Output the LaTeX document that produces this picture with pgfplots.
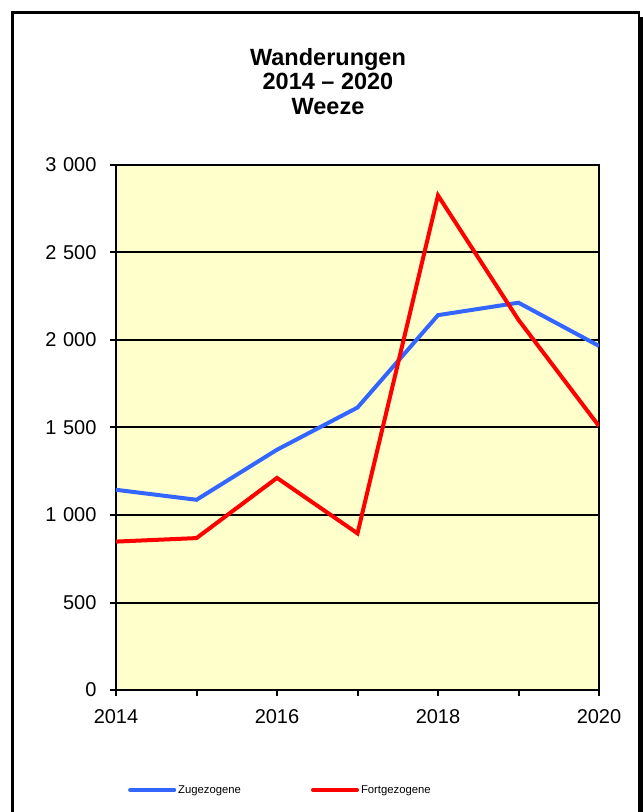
\documentclass[border=0pt]{standalone}
\usepackage{fontspec}
\setmainfont{Liberation Sans}
\usepackage{pgfplots}
\pgfplotsset{compat=1.18}
\definecolor{zuBlue}{RGB}{51,102,255}
\definecolor{fortRed}{RGB}{255,0,0}
\definecolor{plotBg}{RGB}{255,255,204}
\begin{document}
\begin{tikzpicture}[x=1pt,y=1pt]
\useasboundingbox (0,0) rectangle (643,812);
% outer frame
\fill[black] (639,0) rectangle (643,795);
\draw[line width=2.5pt] (12.5,0) -- (12.5,799.5) -- (639,799.5) -- (639,0);
% title
\node[anchor=base,font=\fontsize{23.5}{27}\selectfont\bfseries] at (328,746) {Wanderungen};
\node[anchor=base,font=\fontsize{23.5}{27}\selectfont\bfseries] at (328,722) {2014 -- 2020};
\node[anchor=base,font=\fontsize{23.5}{27}\selectfont\bfseries] at (328,697) {Weeze};
\begin{axis}[
  at={(116pt,122pt)}, anchor=south west,
  scale only axis, width=483pt, height=525pt,
  xmin=2014, xmax=2020, ymin=0, ymax=3000,
  axis background/.style={fill=plotBg},
  axis line style={line width=2.2pt},
  xtick={2014,2015,2016,2017,2018,2019,2020},
  xticklabels={2014,,2016,,2018,,2020},
  ytick={0,500,1000,1500,2000,2500,3000},
  tick align=outside, tick pos=left,
  major tick length=6pt,
  major tick style={black,line width=2pt},
  ymajorgrids,
  major grid style={black,line width=2pt},
  /pgf/number format/assume math mode=true,
  yticklabel style={/pgf/number format/1000 sep={\,\,}, xshift=-10pt},
  xticklabel style={yshift=-10pt},
  scaled y ticks=false,
  tick label style={font=\fontsize{20}{24}\selectfont},
  legend columns=2,
  legend style={draw=none, fill=none, at={(0.0248,-0.1905)}, anchor=west,
    inner sep=0pt, font=\fontsize{11.3}{13}\selectfont,
    /tikz/every even column/.append style={column sep=68pt}},
  legend image code/.code={\draw[#1, line width=4pt, line cap=round] (0,0) -- (44pt,0);},
  legend cell align=left,
]
\addplot[zuBlue, line width=4pt] coordinates {
 (2014,1144) (2015,1087) (2016,1373) (2017,1614) (2018,2142) (2019,2213) (2020,1966)};
\addlegendentry{Zugezogene}
\addplot[fortRed, line width=4pt] coordinates {
 (2014,848) (2015,868) (2016,1212) (2017,895) (2018,2826) (2019,2115) (2020,1508)};
\addlegendentry{Fortgezogene}
\end{axis}
\end{tikzpicture}
\end{document}
